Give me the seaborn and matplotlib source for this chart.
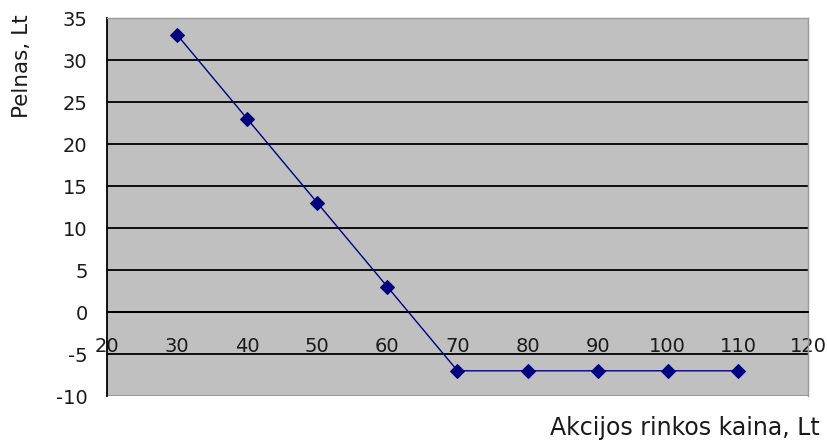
import matplotlib
matplotlib.use("Agg")
import matplotlib.pyplot as plt
import seaborn as sns
import pandas as pd

price = [30, 40, 50, 60, 70, 80, 90, 100, 110]
profit = [33, 23, 13, 3, -7, -7, -7, -7, -7]
x_ticks = [20, 30, 40, 50, 60, 70, 80, 90, 100, 110, 120]
y_ticks = [-10, -5, 0, 5, 10, 15, 20, 25, 30, 35]

sns.set_style("white")
plt.rcParams['font.family'] = ['DejaVu Sans']
plt.rcParams['axes.unicode_minus'] = False

df = pd.DataFrame({"price": price, "profit": profit})

fig = plt.figure(figsize=(8.28, 4.45), dpi=100)
ax = fig.add_axes([107/828, 1-396/445, (808-107)/828, (396-18)/445])
ax.set_facecolor("#C0C0C0")

sns.lineplot(data=df, x="price", y="profit", ax=ax, color="#000080",
             marker="D", markersize=7.5, markeredgecolor="#000080",
             linewidth=1, zorder=3)

ax.set_xlim(20, 120)
ax.set_ylim(-10, 35)
ax.set_xticks(x_ticks)
ax.set_yticks(y_ticks)
ax.set_xlabel("")
ax.set_ylabel("")

ax.yaxis.grid(True, color="black", linewidth=1.3)
ax.xaxis.grid(False)
ax.set_axisbelow(True)
gl = ax.get_ygridlines()
gl[0].set_visible(False)
gl[-1].set_visible(False)

ax.spines['bottom'].set_position(('data', 0))
ax.spines['bottom'].set_color("black")
ax.spines['bottom'].set_linewidth(1.3)
ax.spines['left'].set_color("black")
ax.spines['left'].set_linewidth(1.3)
for s in ['top', 'right']:
    ax.spines[s].set_visible(True)
    ax.spines[s].set_color("#9a9a9a")
    ax.spines[s].set_linewidth(1)
ax.axhline(-10, color="#9a9a9a", linewidth=1.5, zorder=0.5)

ax.tick_params(axis='x', direction='out', length=6, width=1.3, color='black',
               labelsize=14, pad=12, labelcolor='#1a1a1a')
ax.tick_params(axis='y', direction='out', length=6, width=1.3, color='black',
               labelsize=14, pad=8, labelcolor='#1a1a1a')

fig.text(22/828, 1-66/445, "Pelnas, Lt", rotation=90, ha='center', va='center',
         fontsize=15.5, color='#1a1a1a')
fig.text(820/828, 1-428/445, "Akcijos rinkos kaina, Lt", ha='right', va='center',
         fontsize=17, color='#1a1a1a')

fig.savefig("out.png", dpi=100)
